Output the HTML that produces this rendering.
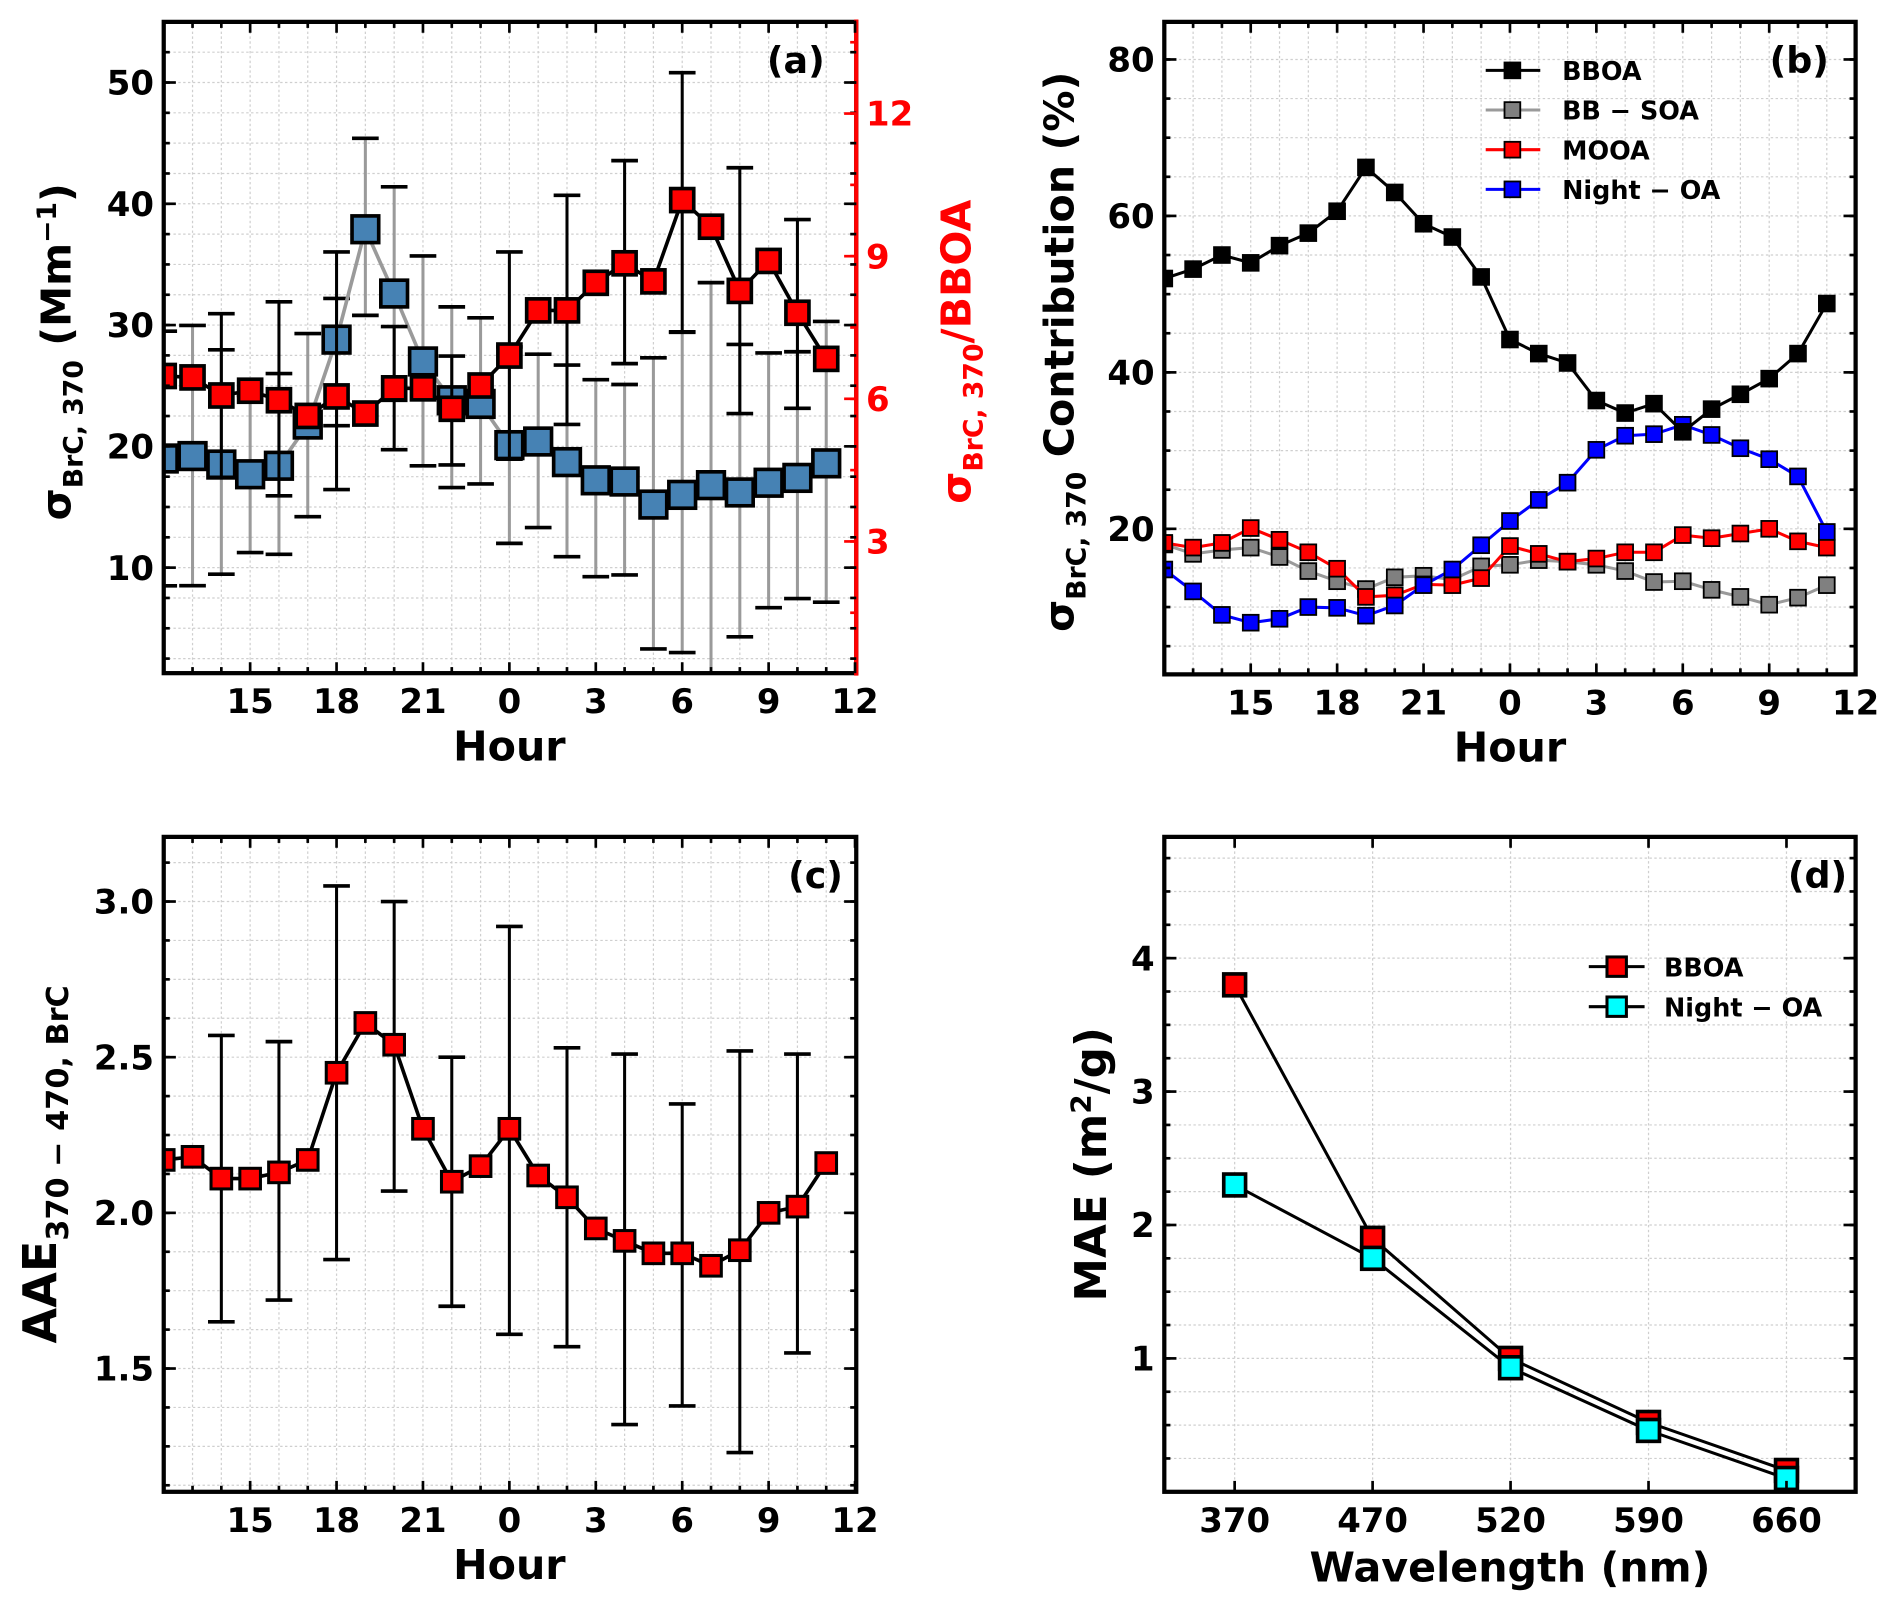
<!DOCTYPE html>
<html><head><meta charset="utf-8"><style>
body{margin:0;background:#fff}
svg{display:block}
text{font-family:"DejaVu Sans","Liberation Sans",sans-serif;font-weight:bold}
</style></head><body>
<svg id="fig" width="1892" height="1609" viewBox="0 0 1560 1326.6"></svg>
<script>
// ---------- data ----------
const hourLabels = ['15','18','21','0','3','6','9','12'];
const blueSigma = [19,19.2,18.5,17.7,18.4,21.8,28.8,37.9,32.6,27,23.8,23.5,20.1,20.4,18.7,17.2,17.1,15.2,16,16.8,16.2,17,17.4,18.6];
const blueHi = [29.5,29.97,27.96,24.2,26.0,29.3,32.2,45.4,41.4,35.7,31.5,30.6,28.2,27.6,26.7,25.5,25.1,27.3,29.4,33.5,28.4,27.7,27.8,30.3];
const blueLo = [8.5,8.51,9.46,11.24,11.1,14.2,21.7,30.8,23.8,18.4,16.6,16.9,12.0,13.3,10.9,9.25,9.4,3.3,3.0,0,4.3,6.7,7.45,7.15];
const redRatio = [6.48,6.45,6.07,6.17,5.97,5.64,6.05,5.69,6.22,6.22,5.79,6.28,6.91,7.86,7.86,8.44,8.85,8.47,10.18,9.62,8.27,8.9,7.81,6.84];
const redHi = [null,null,7.79,null,8.04,null,9.09,null,7.52,null,6.90,null,9.09,null,10.28,null,11.01,null,12.86,null,10.86,null,9.77,null];
const redLo = [null,null,4.35,null,3.96,null,4.09,null,4.93,null,4.61,null,4.73,null,5.46,null,6.74,null,7.41,null,5.69,null,5.80,null];
const bboa = [52,53.2,55,54,56.2,57.8,60.6,66.2,63,59,57.3,52.2,44.2,42.4,41.2,36.4,34.8,36,32.4,35.3,37.2,39.2,42.4,48.8];
const bbsoa = [18,16.8,17.3,17.6,16.4,14.6,13.3,12.3,13.8,14,13.5,15.2,15.4,16,15.8,15.4,14.6,13.2,13.3,12.2,11.3,10.3,11.2,12.8];
const mooa = [18.2,17.6,18.2,20.1,18.6,17,14.9,11.3,11.5,12.9,12.8,13.7,17.8,16.8,15.8,16.2,17,17,19.2,18.8,19.4,20,18.4,17.6];
const nightOA = [14.8,12,9,8,8.5,10,9.9,8.9,10.2,12.8,14.8,17.9,21,23.7,25.9,30.1,31.9,32.1,33.3,32,30.3,28.9,26.7,19.6];
const aae = [2.17,2.18,2.11,2.11,2.13,2.17,2.45,2.61,2.54,2.27,2.1,2.15,2.27,2.12,2.05,1.95,1.91,1.87,1.87,1.83,1.88,2.0,2.02,2.16];
const aaeHi = [null,null,2.57,null,2.55,null,3.05,null,3.0,null,2.5,null,2.92,null,2.53,null,2.51,null,2.35,null,2.52,null,2.51,null];
const aaeLo = [null,null,1.65,null,1.72,null,1.85,null,2.07,null,1.7,null,1.61,null,1.57,null,1.32,null,1.38,null,1.23,null,1.55,null];
const wavelengths = ['370','470','520','590','660'];
const maeBBOA = [3.8,1.9,1.0,0.52,0.16];
const maeNight = [2.3,1.75,0.93,0.46,0.1];
const aTicksL = [10,20,30,40,50];
const aTicksR = [3,6,9,12];
const bTicks = [20,40,60,80];
const cTicks = [1.5,2.0,2.5,3.0];
const dTicks = [1,2,3,4];

// ---------- scales ----------
const xH = (L) => (i) => L + i*23.75;
const xA = xH(135), xB = xH(960);
const yAL = v => 568 - 10*v;
const yAR = v => 564 - 39.2*v;
const yB = v => 565 - 6.45*v;
const yC = v => 1000 - 256.7*(v-2);
const xD = i => 1018 + i*113.75;
const yD = v => 1230 - 110*v;

const svg = document.getElementById('fig');
const NS = svg.namespaceURI;
function mk(tag, attrs, parent){
  const e = document.createElementNS(NS, tag);
  for (const k in attrs) e.setAttribute(k, attrs[k]);
  (parent||svg).appendChild(e);
  return e;
}
function grp(name){
  const g = mk('g', {});
  
  
  return g;
}

function frame(name, L, R, T, B, gx, gy){
  const g = grp(name + '-grid');
  gx.forEach(x => {
    const l = mk('line', {x1:x,x2:x,y1:T,y2:B,stroke:'#cfcfcf','stroke-width':1,'stroke-dasharray':'2,2'}, g);
    
    
  });
  gy.forEach(y => {
    const l = mk('line', {x1:L,x2:R,y1:y,y2:y,stroke:'#cfcfcf','stroke-width':1,'stroke-dasharray':'2,2'}, g);
    
    
  });
}
function border(name, L, R, T, B, rightColor){
  const g = grp(name + '-frame');
  const r = mk('rect', {x:L,y:T,width:R-L,height:B-T,fill:'none',stroke:'#000','stroke-width':3.5}, g);
  
  
  if (rightColor){
    const l = mk('line', {x1:R,x2:R,y1:T-2,y2:B+2,stroke:rightColor,'stroke-width':3.5}, g);
    
    
  }
}
function tick(g, x1, y1, x2, y2, col){
  const l = mk('line', {x1,y1,x2,y2,stroke:col||'#000','stroke-width':2.2}, g);
  
  
}
function label(g, x, y, txt, size, anchor, col, name){
  const t = mk('text', {x,y,'font-size':size,'text-anchor':anchor||'middle',fill:col||'#000'}, g);
  t.textContent = txt;
  
  
  return t;
}
function hourAxis(name, xs, T, B){
  const g = grp(name + '-x-axis');
  for (let i=0;i<=24;i++){
    const len = (i%3===0)?9:5;
    tick(g, xs(i), B, xs(i), B-len);
    tick(g, xs(i), T, xs(i), T+len);
  }
  hourLabels.forEach((s,k) => label(g, xs(3*(k+1)), B+33, s, 28));
  label(g, (xs(0)+xs(24))/2, B+72, 'Hour', 34, 'middle', '#000', 'x-axis-title');
}
function yAxis(name, L, R, ys, ticks, minorStep, lo, hi, fmt, side, col){
  const g = grp(name);
  for (let v=Math.ceil(lo/minorStep)*minorStep; v<=hi; v+=minorStep){
    const y = ys(v);
    if (side==='right') tick(g, R, y, R-5, y, col); else { tick(g, L, y, L+5, y); tick(g, R, y, R-5, y); }
  }
  ticks.forEach(v => {
    const y = ys(v);
    if (side==='right'){ tick(g, R, y, R-10, y, col); label(g, R+8, y+10, fmt(v), 28, 'start', col); }
    else { tick(g, L, y, L+10, y); tick(g, R, y, R-10, y); label(g, L-8, y+10, fmt(v), 28, 'end'); }
  });
}

function polyline(g, pts, col, w, name){
  const p = mk('polyline', {points:pts.map(p=>p.join(',')).join(' '),fill:'none',stroke:col,'stroke-width':w,'stroke-linejoin':'round'}, g);
  
  
}
function marker(g, x, y, s, fill, sw, name){
  const r = mk('rect', {x:x-s/2,y:y-s/2,width:s,height:s,fill,stroke:'#000','stroke-width':sw}, g);
  
  
}
function errbar(g, x, y1, y2, col, cap){
  const l = mk('line', {x1:x,x2:x,y1,y2,stroke:col,'stroke-width':2.5}, g);
  
  
  [y1,y2].forEach(y => {
    const c = mk('line', {x1:x-cap,x2:x+cap,y1:y,y2:y,stroke:'#000','stroke-width':3}, g);
    
    
  });
}

// ===== Panel (a) =====
(function(){
  const L=135,R=706,T=18,B=555;
  const gx=[]; for(let i=1;i<24;i++) gx.push(xA(i));
  const gy=[]; for(let v=2.5;v<55;v+=2.5) gy.push(yAL(v));
  frame('panel-a',L,R,T,B,gx,gy);
  const clip = mk('clipPath',{id:'ca'}); mk('rect',{x:L,y:T,width:R-L,height:B-T},clip);
  const gb = grp('blue-sigma-series'); gb.setAttribute('clip-path','url(#ca)');
  blueSigma.forEach((v,i)=>errbar(gb, xA(i), yAL(blueHi[i]), yAL(blueLo[i]), '#9a9a9a', 11));
  polyline(gb, blueSigma.map((v,i)=>[xA(i),yAL(v)]), '#9a9a9a', 3, 'blue-sigma-line');
  blueSigma.forEach((v,i)=>marker(gb, xA(i), yAL(v), 22, '#4682b4', 3, 'blue-sigma-point'));
  const gr = grp('red-ratio-series'); gr.setAttribute('clip-path','url(#ca)');
  redRatio.forEach((v,i)=>{ if(redHi[i]!==null) errbar(gr, xA(i), yAR(redHi[i]), yAR(redLo[i]), '#000', 11); });
  polyline(gr, redRatio.map((v,i)=>[xA(i),yAR(v)]), '#000', 3, 'red-ratio-line');
  redRatio.forEach((v,i)=>marker(gr, xA(i), yAR(v), 19, '#ff0000', 3, 'red-ratio-point'));
  border('panel-a',L,R,T,B,'#ff0000');
  hourAxis('panel-a',xA,T,B);
  yAxis('panel-a-y-left',L,R,yAL,aTicksL,2.5,1.5,55,v=>String(v),'left');
  yAxis('panel-a-y-right',L,R,yAR,aTicksR,1.5,0.5,13.9,v=>String(v),'right','#ff0000');
  const g = grp('panel-a-labels');
  label(g, 680, 60, '(a)', 30, 'end', '#000', 'panel-label-a');
  const t1 = label(g, 0, 0, '', 34, 'middle', '#000', 'y-axis-title-left');
  t1.setAttribute('transform','translate(58,290) rotate(-90)');
  t1.innerHTML = 'σ<tspan font-size="22" dy="10">BrC, 370</tspan><tspan dy="-10"> (Mm</tspan><tspan font-size="22" dy="-12">−1</tspan><tspan dy="12">)</tspan>';
  const t2 = label(g, 0, 0, '', 34, 'middle', '#ff0000', 'y-axis-title-right');
  t2.setAttribute('transform','translate(800,290) rotate(-90)');
  t2.innerHTML = 'σ<tspan font-size="22" dy="10">BrC, 370</tspan><tspan dy="-10">/BBOA</tspan>';
})();

// ===== Panel (b) =====
(function(){
  const L=960,R=1530,T=18,B=556;
  const gx=[]; for(let i=1;i<24;i++) gx.push(xB(i));
  const gy=[]; for(let v=5;v<85;v+=5) gy.push(yB(v));
  frame('panel-b',L,R,T,B,gx,gy);
  const clip = mk('clipPath',{id:'cb'}); mk('rect',{x:L,y:T,width:R-L,height:B-T},clip);
  const series = [[bbsoa,'#808080','#9a9a9a','bb-soa'],[mooa,'#ff0000','#ff0000','mooa'],[nightOA,'#0000ff','#0000ff','night-oa'],[bboa,'#000','#000','bboa']];
  series.forEach(s=>{
    const g = grp(s[3]+'-series'); g.setAttribute('clip-path','url(#cb)');
    polyline(g, s[0].map((v,i)=>[xB(i),yB(v)]), s[2], 2.5, s[3]+'-line');
    s[0].forEach((v,i)=>marker(g, xB(i), yB(v), 13, s[1], 1.5, s[3]+'-point'));
  });
  border('panel-b',L,R,T,B);
  hourAxis('panel-b',xB,T,B);
  yAxis('panel-b-y-axis',L,R,yB,bTicks,5,5,84,v=>String(v),'left');
  const g = grp('panel-b-labels');
  label(g, 1508, 60, '(b)', 30, 'end', '#000', 'panel-label-b');
  const lg = grp('legend-b');
  [['BBOA','#000','#000'],['BB − SOA','#9a9a9a','#808080'],['MOOA','#ff0000','#ff0000'],['Night − OA','#0000ff','#0000ff']].forEach((e,k)=>{
    const y = 58 + k*32.7;
    const l = mk('line',{x1:1225,x2:1270,y1:y,y2:y,stroke:e[1],'stroke-width':2.5},lg);
    
    
    marker(lg, 1247, y, 13, e[2], 1.5, 'legend-marker');
    label(lg, 1288, y+8, e[0], 21, 'start', '#000', 'legend-entry');
  });
  const t = label(g, 0, 0, '', 34, 'middle', '#000', 'y-axis-title');
  t.setAttribute('transform','translate(885,290) rotate(-90)');
  t.innerHTML = 'σ<tspan font-size="22" dy="10">BrC, 370</tspan><tspan dy="-10"> Contribution (%)</tspan>';
})();

// ===== Panel (c) =====
(function(){
  const L=135,R=706,T=690,B=1230;
  const gx=[]; for(let i=1;i<24;i++) gx.push(xA(i));
  const gy=[]; for(let v=1.125;v<3.2;v+=0.125) gy.push(yC(v));
  frame('panel-c',L,R,T,B,gx,gy);
  const clip = mk('clipPath',{id:'cc'}); mk('rect',{x:L,y:T,width:R-L,height:B-T},clip);
  const xs = i => 135 + i*23.75;
  const g = grp('aae-series'); g.setAttribute('clip-path','url(#cc)');
  aae.forEach((v,i)=>{ if(aaeHi[i]!==null) errbar(g, xs(i), yC(aaeHi[i]), yC(aaeLo[i]), '#000', 11); });
  polyline(g, aae.map((v,i)=>[xs(i),yC(v)]), '#000', 3, 'aae-line');
  aae.forEach((v,i)=>marker(g, xs(i), yC(v), 17, '#ff0000', 2.5, 'aae-point'));
  border('panel-c',L,R,T,B);
  const ha = grp('panel-c-x-axis');
  for (let i=0;i<=24;i++){ const len=(i%3===0)?9:5; tick(ha,xs(i),B,xs(i),B-len); tick(ha,xs(i),T,xs(i),T+len); }
  hourLabels.forEach((s,k)=>label(ha, xs(3*(k+1)), B+33, s, 28));
  label(ha, 420, B+72, 'Hour', 34, 'middle', '#000', 'x-axis-title');
  yAxis('panel-c-y-axis',L,R,yC,cTicks,0.125,1.125,3.2,v=>v.toFixed(1),'left');
  const gl = grp('panel-c-labels');
  label(gl, 695, 732, '(c)', 30, 'end', '#000', 'panel-label-c');
  const t = label(gl, 0, 0, '', 38, 'middle', '#000', 'y-axis-title');
  t.setAttribute('transform','translate(46,960) rotate(-90)');
  t.innerHTML = 'AAE<tspan font-size="25" dy="10">370 − 470, BrC</tspan>';
})();

// ===== Panel (d) =====
(function(){
  const L=960,R=1530,T=690,B=1230;
  const gx = wavelengths.map((w,i)=>xD(i));
  const gy=[]; for(let v=0.25;v<4.9;v+=0.25) gy.push(yD(v));
  frame('panel-d',L,R,T,B,gx,gy);
  const g1 = grp('mae-bboa-series');
  polyline(g1, maeBBOA.map((v,i)=>[xD(i),yD(v)]), '#000', 2.5, 'mae-bboa-line');
  const g2 = grp('mae-night-oa-series');
  polyline(g2, maeNight.map((v,i)=>[xD(i),yD(v)]), '#000', 2.5, 'mae-night-oa-line');
  maeBBOA.forEach((v,i)=>marker(g1, xD(i), yD(v), 18, '#ff0000', 3, 'mae-bboa-point'));
  maeNight.forEach((v,i)=>marker(g2, xD(i), yD(v), 18, '#00ffff', 3, 'mae-night-oa-point'));
  border('panel-d',L,R,T,B);
  const ax = grp('panel-d-x-axis');
  wavelengths.forEach((w,i)=>{ tick(ax,xD(i),B,xD(i),B-9); tick(ax,xD(i),T,xD(i),T+9); label(ax,xD(i),B+33,w,28); });
  label(ax, 1245, B+74, 'Wavelength (nm)', 34, 'middle', '#000', 'x-axis-title');
  yAxis('panel-d-y-axis',L,R,yD,dTicks,0.25,0.25,4.9,v=>String(v),'left');
  const gl = grp('panel-d-labels');
  label(gl, 1523, 732, '(d)', 30, 'end', '#000', 'panel-label-d');
  const lg = grp('legend-d');
  [['BBOA','#ff0000'],['Night − OA','#00ffff']].forEach((e,k)=>{
    const y = 797 + k*33;
    const l = mk('line',{x1:1310,x2:1356,y1:y,y2:y,stroke:'#000','stroke-width':2.5},lg);
    
    
    marker(lg, 1333, y, 16, e[1], 2.5, 'legend-marker');
    label(lg, 1372, y+8, e[0], 21, 'start', '#000', 'legend-entry');
  });
  const t = label(gl, 0, 0, '', 36, 'middle', '#000', 'y-axis-title');
  t.setAttribute('transform','translate(912,960) rotate(-90)');
  t.innerHTML = 'MAE (m<tspan font-size="23" dy="-13">2</tspan><tspan dy="13">/g)</tspan>';
})();
</script>
</body></html>
